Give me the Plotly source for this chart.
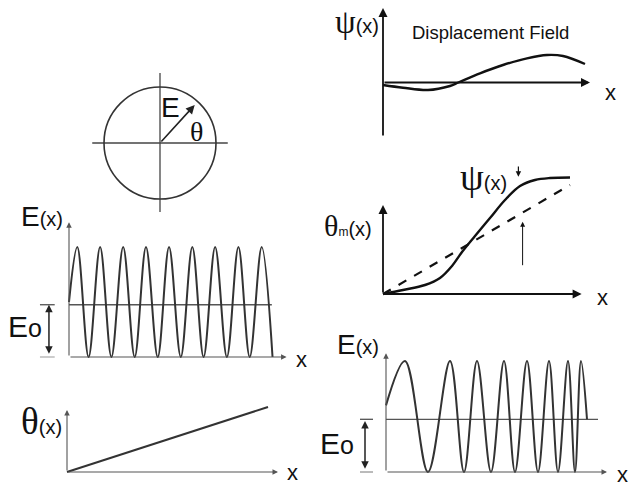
import plotly.graph_objects as go

W, H = 635, 487

# ---------------- data ----------------
# circle panel (unit circle, field vector)
circle_radius = 1.0
cross_h = [-1.21, 1.21]
cross_v = [-1.23, 1.25]
vec_tip = [0.62, 0.68]

# E(x) uniform oscillation (top-left): extrema positions (periods) and values (units of E0)
eB_x = [0, 0.36, 0.85, 1.35, 1.84, 2.35, 2.85, 3.34, 3.85, 4.34, 4.85, 5.35, 5.84, 6.34,
        6.85, 7.35, 7.84, 8.36, 8.83]
eB_y = [1.0, 2, 0, 2, 0, 2, 0, 2, 0, 2, 0, 2, 0, 2, 0, 2, 0, 2, 0]
eB_mid = 0.95
eB_mid_end = 8.8

# theta(x) linear (bottom-left)
thC_x = [0, 10.05]
thC_y = [0, 3.25]

# psi(x) displacement field (top-right)
psi_x = [0, 1.0, 2.25, 3.35, 3.77, 4.85, 6.0, 7.2, 8.2, 9.0, 10.1]
psi_y = [-0.25, -0.52, -0.75, -0.35, 0, 0.92, 1.75, 2.42, 2.75, 2.65, 1.85]

# theta_m(x) (middle-right): solid = with psi, dashed = linear
thm_x = [0, 1.0, 2.1, 2.85, 3.45, 3.95, 4.6, 5.35, 6.1, 6.85, 7.6, 8.35, 9.35]
thm_y = [0, 0.4, 0.9, 1.6, 2.8, 4.2, 5.8, 7.6, 9.4, 10.8, 11.4, 11.6, 11.65]
lin_x = [0, 9.35]
lin_y = [0, 10.9]

# E(x) chirped oscillation (bottom-right)
eF_x = [0, 1.9, 4.2, 6.4, 7.8, 9.1, 10.5, 11.8, 12.9, 14.1, 15.2, 16.3, 17.2, 18.2,
        18.9, 19.5, 20.1]
eF_y = [1.2, 2, 0, 2, 0, 2, 0, 2, 0, 2, 0, 2, 0, 2, 0, 2, 0.95]
eF_mid = 0.95
eF_mid_end = 21.2

# ---------------- layout helpers ----------------
layout = dict(width=W, height=H, margin=dict(l=0, r=0, t=0, b=0),
              paper_bgcolor='white', plot_bgcolor='rgba(0,0,0,0)',
              showlegend=False, autosize=False)
ann = []
shapes = []
traces = []

def ax(n):
    return ('x' if n == 1 else f'x{n}'), ('y' if n == 1 else f'y{n}')

def panel(n, ox, oy, sx, sy, box):
    px0, px1, py0, py1 = box
    xr = [(px0 - ox) / sx, (px1 - ox) / sx]
    yr = [(oy - py1) / sy, (oy - py0) / sy]
    xn = 'xaxis' if n == 1 else f'xaxis{n}'
    yn = 'yaxis' if n == 1 else f'yaxis{n}'
    xa, ya = ax(n)
    layout[xn] = dict(domain=[px0 / W, px1 / W], range=xr, visible=False, anchor=ya, fixedrange=True)
    layout[yn] = dict(domain=[1 - py1 / H, 1 - py0 / H], range=yr, visible=False, anchor=xa, fixedrange=True)

def arrow(n, x0, y0, x1, y1, width=1.5, color='#111', head=2, size=1.0, both=False):
    xa, ya = ax(n)
    ann.append(dict(xref=xa, yref=ya, axref=xa, ayref=ya, x=x1, y=y1, ax=x0, ay=y0,
                    text='', showarrow=True, arrowhead=head, startarrowhead=head,
                    arrowsize=size, startarrowsize=size,
                    arrowwidth=width, arrowcolor=color,
                    arrowside='end+start' if both else 'end'))

def label(n, x, y, text, xanchor='center', size=20, family='Liberation Sans, Arial', color='#111'):
    xa, ya = ax(n)
    ann.append(dict(xref=xa, yref=ya, x=x, y=y, text=text, showarrow=False,
                    xanchor=xanchor, yanchor='middle',
                    font=dict(size=size, family=family, color=color)))

def line(n, xs, ys, color='#222', width=2, dash='solid', shape='linear'):
    xa, ya = ax(n)
    traces.append(go.Scatter(x=xs, y=ys, xaxis=xa, yaxis=ya, mode='lines',
                             line=dict(color=color, width=width, dash=dash, shape=shape, smoothing=1.0),
                             hoverinfo='skip'))

SERIF = 'Liberation Serif, Times New Roman, serif'
def greek(ch, size):
    return f'<span style="font-family:{SERIF};font-size:{size}px">{ch}</span>'
def small(t, size):
    return f'<span style="font-size:{size}px">{t}</span>'

# ---------------- Panel 1: circle ----------------
panel(1, 160, 143, 56, 56, (88, 232, 66, 220))
shapes.append(dict(type='circle', xref='x', yref='y', x0=-circle_radius, x1=circle_radius,
                   y0=-circle_radius, y1=circle_radius, line=dict(color='#333', width=1.6)))
line(1, cross_h, [0, 0], color='#444', width=1.3)
line(1, [0, 0], cross_v, color='#444', width=1.3)
arrow(1, 0, 0, vec_tip[0], vec_tip[1], width=1.6, color='#222', head=2, size=1.1)
label(1, 0.18, 0.64, 'E', size=28)
label(1, 0.66, 0.21, greek('θ', 28), size=28)

# ---------------- Panel 2: E(x) uniform ----------------
panel(2, 69, 357, 23.05, 55, (4, 312, 200, 368))
line(2, [0, eB_mid_end], [eB_mid, eB_mid], color='#555', width=1.3)
line(2, eB_x, eB_y, color='#333', width=2, shape='spline')
arrow(2, 0, 0, 0, 2.45, width=1.1, color='#555', head=2, size=1.0)
arrow(2, 0, 0, 9.44, 0, width=1.1, color='#555', head=2, size=1.0)
arrow(2, -0.87, 0.03, -0.87, eB_mid, width=1.5, color='#222', head=2, size=1.0, both=True)
line(2, [-1.26, -0.62], [eB_mid, eB_mid], color='#444', width=1.2)
line(2, [-1.26, -0.62], [0, 0], color='#999', width=1.0)
label(2, -0.17, 2.56, 'E' + small('(x)', 20), xanchor='right', size=28)
label(2, -1.08, 0.55, 'E' + small('o', 25), xanchor='right', size=30)
label(2, 10.1, -0.05, 'x', size=22)

# ---------------- Panel 3: theta(x) linear ----------------
panel(3, 67, 472, 20, 20, (4, 305, 395, 484))
arrow(3, 0, 0, 0, 3.1, width=1.1, color='#555', head=2, size=1.0)
arrow(3, 0, 0, 10.55, 0, width=1.1, color='#555', head=2, size=1.0)
line(3, thC_x, thC_y, color='#333', width=2)
label(3, -0.15, 2.55, greek('θ', 37) + small('(x)', 20), xanchor='right', size=20)
label(3, 11.25, 0, 'x', size=22)

# ---------------- Panel 4: psi(x) displacement ----------------
panel(4, 383, 82.5, 20, 10, (318, 625, 0, 145))
arrow(4, 0, -5.45, 0, 7.45, width=1.8, color='#111', head=2, size=1.0)
arrow(4, 0, 0, 10.35, 0, width=1.8, color='#111', head=2, size=1.0)
line(4, psi_x, psi_y, color='#111', width=2.4, shape='spline')
label(4, -0.1, 6.1, greek('ψ', 33) + small('(x)', 20), xanchor='right', size=20)
label(4, 5.35, 5.05, 'Displacement Field', size=18.5)
label(4, 11.35, -0.95, 'x', size=22)

# ---------------- Panel 5: theta_m(x) ----------------
panel(5, 383, 294, 20, 10, (315, 625, 150, 305))
arrow(5, 0, 0, 0, 8.9, width=1.8, color='#111', head=2, size=1.0)
arrow(5, 0, 0, 9.93, 0, width=1.8, color='#111', head=2, size=1.0)
line(5, lin_x, lin_y, color='#111', width=2.2, dash='dash')
line(5, thm_x, thm_y, color='#111', width=2.4, shape='spline')
label(5, -0.45, 6.9, greek('θ', 30) + small('m', 12) + small('(x)', 20), xanchor='right', size=20)
label(5, 6.3, 11.7, greek('ψ', 38) + small('(x)', 20), xanchor='right', size=20)
arrow(5, 6.77, 12.9, 6.77, 11.73, width=1.2, color='#111', head=2, size=0.9)
arrow(5, 6.98, 2.73, 6.98, 7.23, width=1.0, color='#111', head=2, size=1.0)
label(5, 10.95, -0.3, 'x', size=22)

# ---------------- Panel 6: E(x) chirped ----------------
panel(6, 386, 472, 10, 55.5, (318, 632, 330, 486))
line(6, [0, eF_mid_end], [eF_mid, eF_mid], color='#555', width=1.3)
line(6, eF_x, eF_y, color='#333', width=2, shape='spline')
arrow(6, 0, 0, 0, 2.14, width=1.1, color='#555', head=2, size=1.0)
arrow(6, 0, 0, 22.1, 0, width=1.1, color='#555', head=2, size=1.0)
arrow(6, -2.1, 0.03, -2.1, eF_mid - 0.03, width=1.5, color='#222', head=2, size=1.0, both=True)
line(6, [-2.6, -1.3], [eF_mid, eF_mid], color='#444', width=1.2)
line(6, [-2.6, -1.3], [0, 0], color='#777', width=1.0)
label(6, -0.5, 2.29, 'E' + small('(x)', 20), xanchor='right', size=28)
label(6, -3.0, 0.52, 'E' + small('o', 25), xanchor='right', size=30)
label(6, 23.6, -0.04, 'x', size=22)

layout['annotations'] = ann
layout['shapes'] = shapes
fig = go.Figure(data=traces, layout=layout)
fig.write_html('out.html', config={'displayModeBar': False, 'staticPlot': True})
